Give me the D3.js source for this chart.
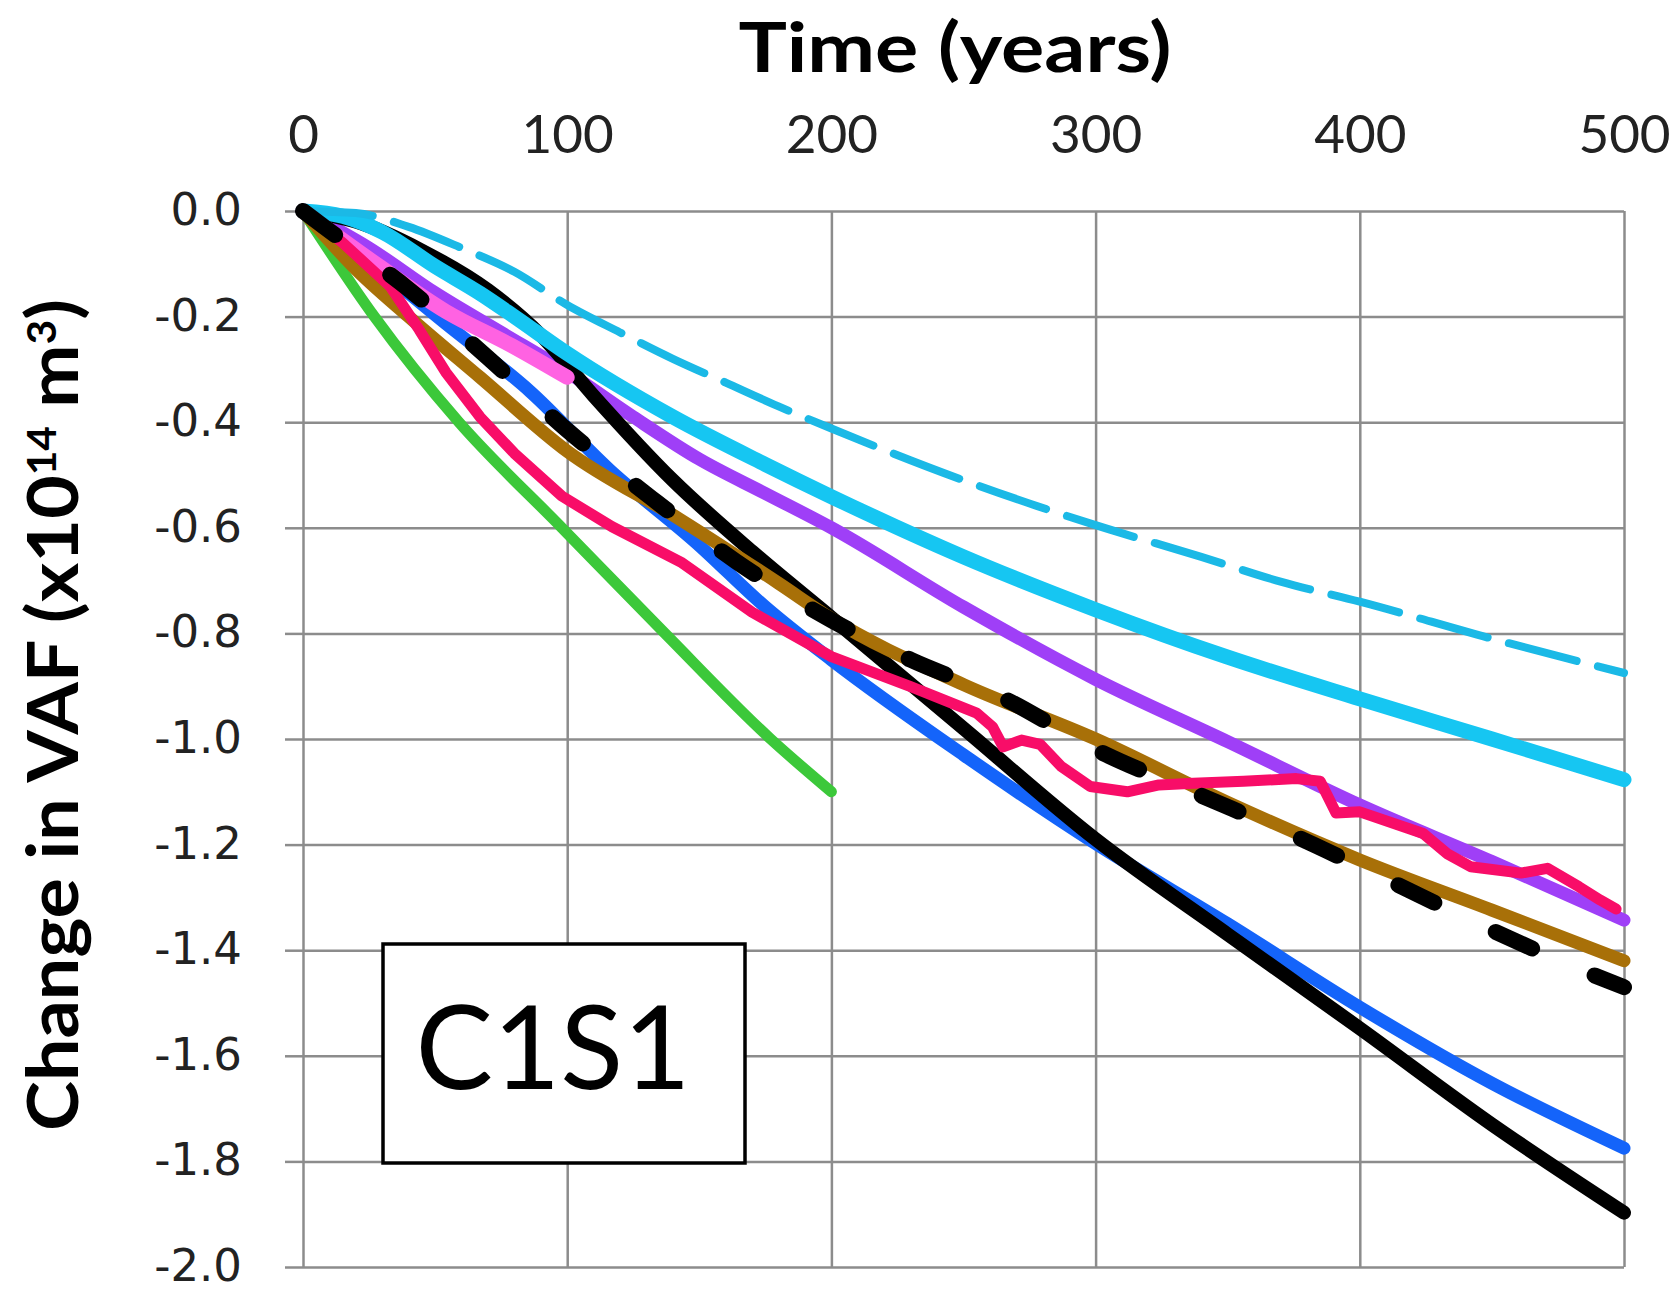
<!DOCTYPE html>
<html>
<head>
<meta charset="utf-8">
<script src="https://cdn.jsdelivr.net/npm/d3@7"></script>
<style>
  body { margin: 0; background: #fff; }
  svg { display: block; }
</style>
</head>
<body>
<div id="chart"></div>
<script>
// axis ticks
var xTicks = [0, 100, 200, 300, 400, 500];
var yTicks = [0, -0.2, -0.4, -0.6, -0.8, -1.0, -1.2, -1.4, -1.6, -1.8, -2.0];

// series: [year, change in VAF]
var green = [[0,0],[27,-0.2],[59,-0.4],[98,-0.6],[137,-0.8],[177,-1.0],[200,-1.1]];
var pink = [[0,0],[15,-0.055],[29,-0.105],[54,-0.19],[79,-0.255],[100,-0.315]];
var purple = [[0,0],[25,-0.07],[50,-0.155],[75,-0.23],[100,-0.305],[125,-0.39],[150,-0.47],[175,-0.535],[200,-0.6],[250,-0.75],[300,-0.887],[350,-1.005],[400,-1.125],[450,-1.232],[500,-1.343]];
var cyan = [[0,0],[15,-0.01],[30,-0.04],[50,-0.105],[67,-0.156],[80,-0.2],[100,-0.27],[140,-0.39],[175,-0.48],[200,-0.541],[250,-0.655],[300,-0.755],[350,-0.845],[400,-0.924],[450,-1.0],[500,-1.077]];
var cyanDashed = [[0,0],[20,-0.004],[40,-0.03],[60,-0.07],[80,-0.115],[100,-0.178],[120,-0.23],[140,-0.28],[160,-0.325],[180,-0.37],[200,-0.412],[250,-0.51],[300,-0.595],[340,-0.655],[370,-0.702],[400,-0.74],[450,-0.81],[500,-0.875]];
var blue = [[0,0],[25,-0.095],[54,-0.213],[86,-0.342],[116,-0.49],[149,-0.629],[175,-0.75],[200,-0.85],[250,-1.03],[300,-1.198],[350,-1.35],[400,-1.508],[450,-1.652],[500,-1.775]];
var black = [[0,0],[20,-0.02],[45,-0.075],[70,-0.15],[90,-0.235],[110,-0.35],[140,-0.51],[170,-0.645],[200,-0.77],[250,-0.98],[300,-1.19],[350,-1.37],[400,-1.548],[450,-1.73],[500,-1.897]];
var brown = [[0,0],[20,-0.11],[40,-0.2],[67,-0.315],[100,-0.455],[143,-0.585],[180,-0.705],[200,-0.772],[250,-0.897],[300,-1.0],[350,-1.12],[400,-1.229],[450,-1.324],[500,-1.42]];
var blackDashed = [[0,0],[8,-0.03],[40,-0.148],[70,-0.278],[100,-0.415],[132,-0.544],[164,-0.664],[200,-0.775],[230,-0.85],[266,-0.925],[300,-1.02],[338,-1.103],[376,-1.185],[413,-1.273],[450,-1.362],[487,-1.444],[500,-1.47]];
var red = [[0,0],[15,-0.06],[33,-0.143],[44,-0.225],[54,-0.305],[67,-0.39],[80,-0.459],[98,-0.54],[117,-0.598],[143,-0.665],[170,-0.76],[200,-0.844],[230,-0.901],[255,-0.951],[261,-0.977],[265,-1.015],[272,-1.002],[279,-1.01],[287,-1.052],[298,-1.09],[312,-1.1],[324,-1.087],[337,-1.084],[356,-1.08],[376,-1.075],[385,-1.08],[391,-1.14],[400,-1.138],[424,-1.179],[433,-1.217],[442,-1.242],[461,-1.254],[471,-1.245],[483,-1.28],[491,-1.305],[497,-1.322]];

var width = 1677;
var height = 1290;
var plotLeft = 303, plotRight = 1624, plotTop = 211, plotBottom = 1267;

var svg = d3.select('#chart').append('svg')
    .attr('width', width)
    .attr('height', height)
    .style('background', '#fff');

var x = d3.scaleLinear().domain([0, 500]).range([plotLeft, plotRight]);
var y = d3.scaleLinear().domain([-2, 0]).range([plotBottom, plotTop]);

// grid
var gridColor = '#8c8c8c';
svg.append('g')
    .attr('transform', `translate(0,${plotBottom})`)
    .call(d3.axisBottom(x).tickValues(xTicks).tickSize(-(plotBottom - plotTop)).tickFormat(''))
    .call(g => g.select('.domain').remove())
    .selectAll('line').attr('stroke', gridColor).attr('stroke-width', 2.5);

svg.append('g')
    .attr('transform', `translate(${plotLeft},0)`)
    .call(d3.axisLeft(y).tickValues(yTicks).tickSize(-(plotRight - plotLeft)).tickFormat(''))
    .call(g => g.select('.domain').remove())
    .selectAll('line').attr('stroke', gridColor).attr('stroke-width', 2.5);

// y axis ticks + labels
var yAxis = svg.append('g')
    .attr('transform', `translate(${plotLeft},0)`)
    .call(d3.axisLeft(y).tickValues(yTicks).tickSize(18).tickPadding(43).tickFormat(d => d.toFixed(1)));
yAxis.select('.domain').remove();
yAxis.selectAll('line').attr('stroke', gridColor).attr('stroke-width', 2.5);
yAxis.selectAll('text')
    .attr('font-family', 'DejaVu Sans')
    .attr('font-size', 45)
    .attr('dy', '0.3em')
    .attr('fill', '#222');

// x axis labels on top
var xAxis = svg.append('g')
    .attr('transform', `translate(0,${plotTop})`)
    .call(d3.axisTop(x).tickValues(xTicks).tickSize(0).tickPadding(58));
xAxis.select('.domain').remove();
xAxis.selectAll('text')
    .attr('font-family', 'Lato')
    .attr('font-size', 53)
    .attr('fill', '#222');

// titles
var xTitle = svg.append('text')
    .text('Time (years)')
    .attr('font-family', 'Lato')
    .attr('font-weight', 700)
    .attr('font-size', 69)
    .attr('text-anchor', 'middle')
    .attr('fill', '#000');
var xw = xTitle.node().getComputedTextLength();
xTitle.attr('transform', `translate(955,72) scale(${433 / xw},1)`);

var yTitle = svg.append('text')
    .attr('font-family', 'Lato')
    .attr('font-weight', 700)
    .attr('font-size', 71)
    .attr('text-anchor', 'middle')
    .attr('fill', '#000');
yTitle.append('tspan').text('Change in VAF (x10');
yTitle.append('tspan').text('14').attr('font-size', 40).attr('dy', -22);
yTitle.append('tspan').text(' m').attr('dy', 22);
yTitle.append('tspan').text('3').attr('font-size', 40).attr('dy', -22);
yTitle.append('tspan').text(')').attr('dy', 22);
var yw = yTitle.node().getComputedTextLength();
yTitle.attr('transform', `translate(78,715) rotate(-90) scale(${832 / yw},1)`);

// lines
var line = d3.line()
    .x(d => x(d[0]))
    .y(d => y(d[1]))
    .curve(d3.curveMonotoneX);
var jagged = d3.line()
    .x(d => x(d[0]))
    .y(d => y(d[1]))
    .curve(d3.curveLinear);

var series = [
    {data: blue, color: '#1464FA', w: 13},
    {data: purple, color: '#9F3FF7', w: 13},
    {data: black, color: '#000000', w: 14},
    {data: cyan, color: '#16C6F2', w: 15},
    {data: cyanDashed, color: '#1BB9E6', w: 8, dash: '70,22'},
    {data: green, color: '#3CC83A', w: 11},
    {data: pink, color: '#FF62E2', w: 15},
    {data: brown, color: '#A87008', w: 13},
    {data: red, color: '#F80D68', w: 11, jag: true},
    {data: blackDashed, color: '#000000', w: 16, dash: '40,68'}
];

svg.append('g').selectAll('path')
    .data(series)
    .join('path')
    .attr('d', s => (s.jag ? jagged : line)(s.data))
    .attr('fill', 'none')
    .attr('stroke', s => s.color)
    .attr('stroke-width', s => s.w)
    .attr('stroke-linecap', 'round')
    .attr('stroke-linejoin', 'round')
    .attr('stroke-dasharray', s => s.dash || null);

// label box
svg.append('rect')
    .attr('x', 383).attr('y', 944)
    .attr('width', 362).attr('height', 219)
    .attr('fill', '#fff')
    .attr('stroke', '#000')
    .attr('stroke-width', 3.5);
svg.append('text')
    .text('C1S1')
    .attr('x', 553).attr('y', 1089)
    .attr('text-anchor', 'middle')
    .attr('font-family', 'Lato')
    .attr('font-size', 116)
    .attr('fill', '#000');
</script>
</body>
</html>
